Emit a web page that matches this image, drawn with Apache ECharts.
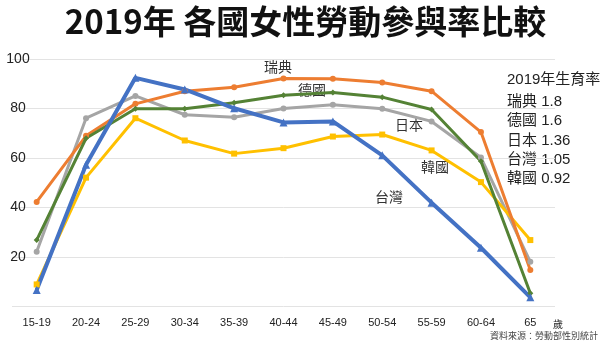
<!DOCTYPE html>
<html><head><meta charset="utf-8">
<script src="https://cdn.jsdelivr.net/npm/echarts@6/dist/echarts.min.js"></script>
<style>html,body{margin:0;padding:0;background:#fff}#c{width:611px;height:344px}</style>
</head><body><div id="c"></div>
<script>
const categories = ['15-19','20-24','25-29','30-34','35-39','40-44','45-49','50-54','55-59','60-64','65'];
const taiwan  = [6.7, 57.3, 92.4, 87.7, 80.1, 74.4, 74.8, 61.1, 42.0, 23.8, 3.8];
const sweden  = [42.3, 69.0, 81.9, 87.0, 88.6, 92.1, 92.0, 90.5, 87.0, 70.5, 14.8];
const germany = [26.9, 68.0, 79.9, 79.9, 82.3, 85.4, 86.5, 84.6, 79.6, 58.7, 5.4];
const japan   = [22.2, 76.1, 85.1, 77.5, 76.5, 80.0, 81.5, 79.9, 74.8, 60.2, 18.1];
const korea   = [9.0, 52.1, 76.1, 67.1, 61.8, 64.0, 68.7, 69.5, 63.1, 50.3, 26.9];
const yTicks = [0, 20, 40, 60, 80, 100];
const fertilityTitle = '2019年生育率';
const fertility = [['瑞典','1.8'],['德國','1.6'],['日本','1.36'],['台灣','1.05'],['韓國','0.92']];

const FONT = '"Liberation Sans","Noto Sans CJK TC",sans-serif';
const chart = echarts.init(document.getElementById('c'));
function mk(name, data, color, symbol, width, size){
  return {name, type:'line', data, symbol, symbolSize:size, showSymbol:true,
    lineStyle:{color, width}, itemStyle:{color}, z: 2, animation:false};
}
const seriesTexts = [
  {t:'瑞典', x:264, y:67}, {t:'德國', x:298, y:90}, {t:'日本', x:395, y:125},
  {t:'韓國', x:421, y:167}, {t:'台灣', x:375, y:197}
];
const graphics = [
  {type:'text', left:'center', top:5, style:{text:'2019年 各國女性勞動參與率比較', font:'bold 33px "Noto Sans CJK TC",sans-serif', fill:'#111'}},
  {type:'text', x:507, y:80, style:{text:fertilityTitle, font:'15px '+FONT, fill:'#222', verticalAlign:'middle'}},
  {type:'text', x:553, y:324, style:{text:'歲', font:'10px "Noto Sans CJK TC",sans-serif', fill:'#222', verticalAlign:'middle'}},
  {type:'text', x:598, y:336, style:{text:'資料來源：勞動部性別統計', font:'9px "Noto Sans CJK TC",sans-serif', fill:'#444', align:'right', verticalAlign:'middle'}}
];
fertility.forEach((f,i)=>{
  graphics.push({type:'text', x:507, y:101.7+i*19.4, style:{text:f[0]+' '+f[1], font:'15px '+FONT, fill:'#222', verticalAlign:'middle'}});
});
seriesTexts.forEach(s=>{
  graphics.push({type:'text', x:s.x, y:s.y, style:{text:s.t, font:'14px "Noto Sans CJK TC",sans-serif', fill:'#333', verticalAlign:'middle'}});
});
chart.setOption({
  animation:false,
  grid:{left:12, right:56, top:59, bottom:37.3, containLabel:false},
  xAxis:{type:'category', data:categories, boundaryGap:true,
    axisLine:{show:false}, axisTick:{show:false},
    axisLabel:{color:'#222', fontSize:11, fontFamily:FONT, margin:11}},
  yAxis:{type:'value', min:0, max:100, interval:20,
    splitLine:{lineStyle:{color:'#e3e3e3', width:1}},
    axisLine:{show:false}, axisTick:{show:false},
    axisLabel:{inside:true, margin:6, align:'center', color:'#222', fontSize:14, fontFamily:FONT,
      padding:[14,0,0,0], formatter:v=> (yTicks.includes(v) && v!==0) ? String(v) : ''}},
  series:[
    mk('日本', japan, '#A5A5A5', 'circle', 3, 6),
    mk('韓國', korea, '#FFC000', 'rect', 3, 6),
    mk('瑞典', sweden, '#ED7D31', 'circle', 3, 6),
    mk('德國', germany, '#548235', 'diamond', 3, 6),
    mk('台灣', taiwan, '#4472C4', 'triangle', 4, 8)
  ],
  graphic:graphics
});
</script></body></html>
